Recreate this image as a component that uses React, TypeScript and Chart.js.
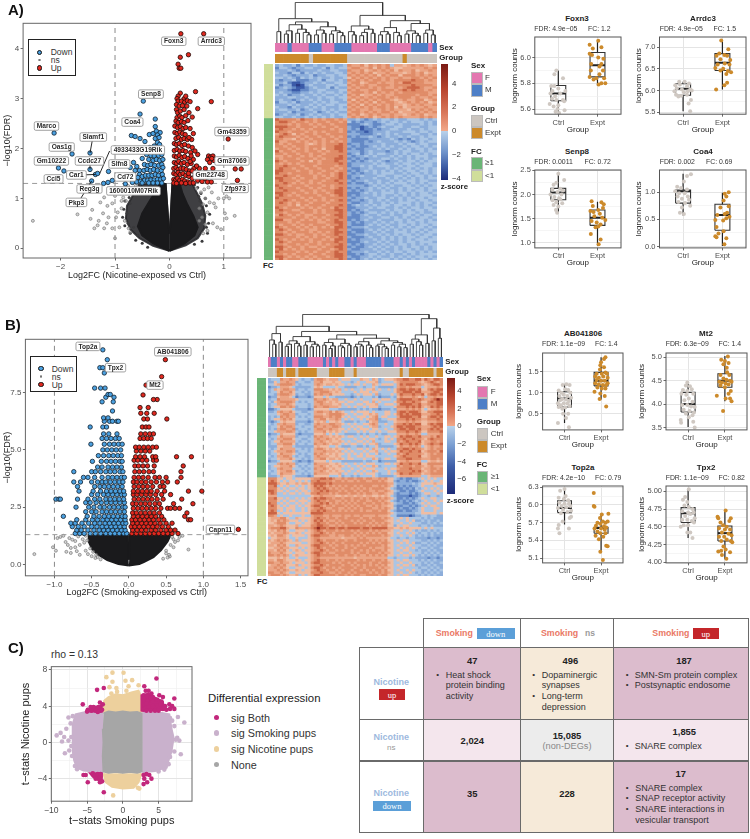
import React, { useEffect, useRef } from "react";
import { Chart, registerables } from "chart.js";
Chart.register(...registerables);
Chart.defaults.font.family = "'Liberation Sans', Arial, sans-serif";

const FONT = "'Liberation Sans', Arial, sans-serif";

// ---------- Volcano A ----------
const upA = [0.21,4.3,0.63,4.3,0.2,3.83,0.35,3.88,0.16,3.69,0.18,3.61,0.21,3.61,0.2,3.11,0.48,3.14,0.77,2.94,0.52,2.8,
0.16,3.05,0.14,3.0,0.27,3.0,0.3,3.05,0.16,2.95,0.22,2.95,0.28,2.93,0.33,2.96,0.38,2.94,0.13,2.88,0.18,2.85,0.24,2.86,0.32,2.85,
0.13,2.78,0.15,2.72,0.2,2.75,0.27,2.78,0.36,2.72,0.14,2.62,0.19,2.65,0.23,2.62,0.3,2.66,0.42,2.63,0.12,2.55,0.16,2.52,0.22,2.54,0.27,2.52,0.34,2.56,
0.1,2.45,0.15,2.42,0.2,2.44,0.25,2.4,0.3,2.42,0.38,2.4,0.1,2.32,0.14,2.3,0.19,2.33,0.24,2.3,0.29,2.28,0.44,2.3,0.12,2.2,0.17,2.22,0.22,2.18,0.27,2.2,0.33,2.18,0.41,2.18,0.36,2.22,
0.09,2.1,0.13,2.08,0.18,2.1,0.23,2.06,0.28,2.08,0.35,2.05,0.42,2.02,0.09,1.96,0.14,1.98,0.19,1.95,0.25,1.96,0.3,1.94,0.39,1.92,0.52,1.88,0.47,1.95,
0.09,1.85,0.13,1.83,0.18,1.86,0.23,1.82,0.28,1.84,0.34,1.8,0.44,1.78,0.4,1.85,0.09,1.72,0.13,1.7,0.17,1.74,0.22,1.7,0.27,1.72,0.33,1.68,0.4,1.7,0.38,1.74,0.08,1.6,0.12,1.62,0.16,1.58,0.21,1.6,0.26,1.6,0.31,1.58,0.37,1.55,0.49,1.64,0.45,1.6,0.55,1.6,
0.08,1.5,0.12,1.48,0.16,1.52,0.2,1.48,0.25,1.5,0.3,1.46,0.36,1.44,0.35,1.5,0.42,1.55,0.48,1.5,0.58,1.5,0.6,1.45,0.08,1.38,0.11,1.36,0.15,1.4,0.19,1.36,0.24,1.38,0.28,1.35,0.34,1.33,0.42,1.4,0.47,1.45,0.55,1.42,0.52,1.36,0.08,1.31,0.13,1.3,0.22,1.31,0.3,1.3,0.38,1.31,0.44,1.31,
0.72,1.85,0.76,1.83,0.8,1.85,0.7,1.78,0.74,1.72,0.82,1.76,0.78,1.8,0.5,1.65,0.66,1.6,0.67,1.52,0.8,1.6,0.65,1.4,0.6,1.34,0.7,1.33,0.77,1.33,1.08,2.19,1.21,1.59,1.32,1.59,1.25,1.36];
const downA = [-2.12,2.31,-1.79,1.89,-1.46,1.91,-2.04,1.61,-1.94,1.55,-1.46,1.58,-1.36,1.48,-1.32,1.5,-1.12,1.54,-1.43,1.35,-1.21,1.3,-1.13,1.32,-1.05,1.36,-0.81,1.29,-0.48,2.95,-0.54,2.69,-0.26,2.59,
-0.7,2.26,-0.63,2.24,-0.54,2.2,-0.45,2.14,-0.37,2.28,-0.3,2.3,-0.26,2.44,-0.24,2.35,-0.17,2.32,-0.22,2.27,-0.26,2.2,-0.19,2.22,-0.22,2.12,-0.18,2.08,-0.28,2.05,-0.36,2.02,-0.44,1.98,-0.3,1.95,-0.22,1.96,-0.14,1.98,
-0.42,1.88,-0.34,1.86,-0.28,1.85,-0.2,1.86,-0.14,1.88,-0.5,1.8,-0.38,1.78,-0.3,1.76,-0.24,1.78,-0.18,1.76,-0.12,1.78,-0.66,1.72,-0.6,1.64,-0.55,1.56,-0.46,1.68,-0.4,1.66,-0.34,1.68,-0.27,1.66,-0.2,1.66,-0.14,1.68,
-0.72,1.62,-0.63,1.56,-0.55,1.48,-0.47,1.56,-0.41,1.58,-0.35,1.56,-0.29,1.58,-0.22,1.56,-0.15,1.56,-0.12,1.62,-0.74,1.44,-0.66,1.38,-0.58,1.42,-0.5,1.44,-0.44,1.46,-0.38,1.46,-0.32,1.46,-0.26,1.48,-0.2,1.46,-0.13,1.48,
-0.68,1.32,-0.6,1.33,-0.53,1.34,-0.46,1.36,-0.4,1.36,-0.34,1.37,-0.28,1.37,-0.22,1.38,-0.16,1.38,-0.11,1.4,-0.5,1.31,-0.38,1.31,-0.3,1.31,-0.22,1.31,-0.14,1.31];
const nsA = [-2.51,0.55,-1.69,0.68,-1.42,0.77,-1.45,0.59,-1.27,0.92,-1.2,1.02,-1.1,1.12,-1.02,1.18,-1.14,0.85,-1.05,0.9,-1.0,1.05,-0.95,1.2,-1.22,0.7,-1.12,0.62,-1.05,0.4,-1.15,0.5,-1.3,0.55,-0.98,0.62,-0.92,0.42,-0.95,0.72,-1.38,0.4,-1.32,0.46,-1.0,0.2,-1.2,0.4,-0.9,1.1,-0.88,0.95,-0.88,0.8,-0.82,0.55,-0.75,0.4,-0.72,0.32,-0.8,0.95,-0.7,1.2,-0.62,1.25,
0.72,1.22,0.78,1.12,0.66,1.0,0.74,0.92,0.62,0.88,0.82,0.9,0.7,0.72,0.6,0.62,0.66,0.48,0.8,0.5,0.88,0.42,0.95,0.38,1.0,1.0,1.05,1.04,1.1,1.0,1.02,0.7,1.05,0.6,0.9,1.0,0.58,1.12,0.64,1.18,0.55,0.55,0.55,0.8,1.2,0.65,0.85,0.82,0.62,0.3,0.7,0.35,0.5,1.2,-0.76,1.25,-0.85,1.02,-0.8,1.2];
const coneEdgeA = [-0.82,0.45,-0.86,0.62,-0.84,0.78,-0.82,0.95,-0.74,1.02,-0.7,1.15,-0.6,1.2,-0.56,1.27,-0.72,0.3,-0.62,0.16,-0.5,0.1,-0.78,0.7,-0.72,0.9,-0.66,0.42,-0.4,0.02,-0.64,1.1,-0.76,0.5,-0.58,0.26,
0.7,0.3,0.6,0.14,0.46,0.08,0.72,0.5,0.74,0.68,0.68,0.85,0.66,1.0,0.58,1.1,0.52,1.22,0.46,1.27,0.62,0.62,0.56,0.95,0.68,0.42,0.54,1.04];
const coneOuterLeftA = [0,-0.05,-0.3,0.05,-0.55,0.2,-0.72,0.38,-0.8,0.6,-0.78,0.85,-0.66,1.08,-0.5,1.29,-0.07,1.29,-0.015,0.45,0,0.3];
const coneOuterRightA = [0,-0.05,0.3,0.06,0.52,0.2,0.64,0.4,0.66,0.65,0.6,0.9,0.5,1.12,0.42,1.29,0.055,1.29,0.015,0.45,0,0.3];
const coneLeftA = [0,-0.05,-0.3,0.1,-0.5,0.26,-0.58,0.44,-0.5,0.7,-0.36,0.95,-0.24,1.15,-0.18,1.29,-0.07,1.29,-0.015,0.45,0,0.3];
const coneRightA = [0,-0.05,0.28,0.1,0.46,0.26,0.52,0.42,0.44,0.65,0.32,0.9,0.24,1.1,0.19,1.29,0.055,1.29,0.015,0.45,0,0.3];
const labelsA: [string, number, number][] = [["Foxn3",0.08,4.15],["Arrdc3",0.77,4.15],["Senp8",-0.34,3.09],["Coa4",-0.68,2.53],["Marco",-2.26,2.45],["Oas1g",-1.98,2.03],["Slamf1",-1.4,2.23],["Gm10222",-2.17,1.75],["Ccdc27",-1.47,1.75],["4933433G19Rik",-0.58,1.97],["Slfn8",-0.92,1.69],["Car1",-1.71,1.47],["Ccl5",-2.13,1.39],["Cd72",-0.81,1.43],["Reg3g",-1.47,1.19],["1600010M07Rik",-0.66,1.15],["Pkp3",-1.71,0.92],["Gm43359",1.15,2.34],["Gm37069",1.15,1.75],["Gm22748",0.75,1.47],["Zfp973",1.21,1.2]];
const leadersA = [-1.42,2.15,-1.46,1.91,-1.1,1.95,-1.28,1.5,-1.6,1.47,-1.36,1.48,-1.63,1.0,-1.43,1.35,-1.46,1.75,-1.46,1.58];
const xTicksVA = [-2,-1,0,1];
const yTicksVA = [0,1,2,3,4];

// ---------- Volcano B ----------
const downRowsB = [
[1.35,-0.72,-0.66,-0.6,-0.52,-0.45,-0.38,-0.31,-0.25,-0.19,-0.13,-0.07,-0.03],
[1.5,-0.7,-0.64,-0.55,-0.47,-0.4,-0.34,-0.28,-0.22,-0.16,-0.1,-0.05],
[1.65,-0.76,-0.68,-0.6,-0.5,-0.43,-0.36,-0.3,-0.24,-0.18,-0.12,-0.06],
[1.8,-0.78,-0.72,-0.63,-0.54,-0.46,-0.39,-0.32,-0.26,-0.2,-0.14,-0.08,-0.04],
[1.95,-0.7,-0.58,-0.49,-0.42,-0.35,-0.29,-0.23,-0.17,-0.11,-0.05],
[2.1,-0.88,-0.56,-0.47,-0.4,-0.33,-0.27,-0.21,-0.15,-0.09,-0.05],
[2.3,-0.58,-0.5,-0.44,-0.36,-0.3,-0.24,-0.18,-0.12,-0.06],
[2.5,-0.71,-0.54,-0.47,-0.39,-0.33,-0.26,-0.2,-0.14,-0.08,-0.05],
[2.7,-0.58,-0.52,-0.44,-0.37,-0.3,-0.24,-0.18,-0.12,-0.06],
[2.85,-0.98,-0.94,-0.92,-0.69,-0.55,-0.46,-0.39,-0.31,-0.25,-0.19,-0.13,-0.07],
[3.05,-0.5,-0.42,-0.34,-0.28,-0.22,-0.16,-0.1,-0.06],
[3.2,-0.67,-0.48,-0.38,-0.3,-0.24,-0.18,-0.12,-0.07],
[3.4,-0.69,-0.46,-0.39,-0.33,-0.27,-0.21,-0.15,-0.09],
[3.6,-0.65,-0.74,-0.5,-0.42,-0.36,-0.31,-0.25,-0.19,-0.13,-0.08],
[3.8,-0.61,-0.55,-0.46,-0.36,-0.28,-0.22,-0.16,-0.1,-0.06],
[4.05,-0.74,-0.5,-0.45,-0.38,-0.31,-0.25,-0.19,-0.12,-0.08],
[4.25,-0.42,-0.36,-0.28,-0.22,-0.16,-0.1],
[4.5,-0.49,-0.37,-0.3,-0.24,-0.18,-0.12,-0.09],
[4.75,-0.41,-0.34,-0.27,-0.21,-0.15,-0.1],
[5.0,-0.35,-0.29,-0.23,-0.17,-0.11],
[5.25,-0.51,-0.33,-0.26,-0.2,-0.14,-0.09],
[5.5,-0.36,-0.3,-0.24,-0.18,-0.13],
[5.7,-0.34,-0.27,-0.16],
[6.0,-0.52,-0.35,-0.3],
[6.25,-0.33,-0.26,-0.22,-0.16,-0.14],
[6.4,-0.34,-0.28],
[6.7,-0.22],
[7.1,-0.36,-0.21],
[7.3,-0.31,-0.2],
[7.42,-0.28,-0.25],
[7.7,-0.46,-0.38,-0.32],
[8.36,-0.33],
[8.59,-0.39,-0.35],
[8.94,-0.29],
[9.37,-0.35]];
const upRowsB = [
[1.35,0.04,0.1,0.16,0.22,0.28,0.34,0.4,0.46,0.52,0.58,0.66],
[1.5,0.05,0.11,0.17,0.23,0.3,0.36,0.43,0.5,0.56,0.62],
[1.65,0.03,0.08,0.14,0.2,0.26,0.32,0.38,0.45,0.53],
[1.8,0.05,0.11,0.17,0.23,0.29,0.35,0.42,0.5,0.58],
[1.95,0.04,0.09,0.15,0.21,0.27,0.33,0.4,0.47,0.8,0.83],
[2.1,0.06,0.12,0.18,0.24,0.3,0.36,0.44,0.75],
[2.25,0.05,0.1,0.16,0.22,0.28,0.34,0.41,0.78],
[2.45,0.06,0.12,0.18,0.24,0.3,0.36,0.43,0.52,0.56,0.62,0.68],
[2.65,0.05,0.1,0.16,0.22,0.28,0.35,0.41,0.6,0.86],
[2.85,0.07,0.13,0.19,0.25,0.31,0.38,0.46,0.71],
[3.05,0.06,0.11,0.17,0.23,0.29,0.36,0.44,0.56],
[3.2,0.06,0.12,0.18,0.24,0.3,0.38,0.48,0.8,0.98],
[3.4,0.07,0.13,0.19,0.25,0.32,0.42,0.47],
[3.6,0.06,0.11,0.17,0.23,0.3,0.37,0.45,0.52,0.65],
[3.8,0.07,0.13,0.19,0.26,0.35,0.41,0.5,0.7],
[4.05,0.08,0.14,0.2,0.27,0.33,0.7],
[4.3,0.08,0.13,0.19,0.25,0.34,0.73],
[4.55,0.07,0.12,0.18,0.24,0.33,0.37],
[4.7,0.09,0.15,0.21,0.32,0.36,0.64,0.84],
[4.95,0.1,0.16,0.22,0.28],
[5.12,0.09,0.14,0.2,0.26,0.32,0.37],
[5.5,0.15,0.2,0.25,0.3],
[5.7,0.16,0.22,0.28,0.33],
[6.0,0.18,0.23,0.27],
[6.35,0.2,0.25,0.51],
[6.6,0.16,0.24,0.34],
[6.85,0.15,0.26],
[7.2,0.38,0.33],
[7.4,0.19],
[7.83,0.23],
[8.2,0.44],
[8.94,0.49],
[1.53,1.47]];
const nsB = [-1.27,0.45,-1.02,0.75,-0.98,0.6,-0.85,0.98,-0.92,1.2,-0.96,1.15,-0.88,1.25,-0.8,1.15,-0.76,1.08,-0.72,1.02,-0.82,0.85,-0.78,0.72,-0.72,0.75,-0.7,0.58,-0.78,0.5,-0.84,0.55,-0.66,0.85,-0.66,0.42,-0.62,1.1,-0.6,0.95,-0.58,0.6,-0.55,0.45,-0.5,0.36,-0.44,0.42,-0.42,0.32,-0.45,0.28,-0.38,0.22,-0.68,1.22,-0.58,1.25,-0.56,1.05,-0.52,0.7,-0.48,0.55,
0.8,0.65,0.55,0.35,0.54,0.42,0.52,0.3,0.6,0.75,0.62,0.98,0.66,1.05,0.68,1.2,0.58,1.2,0.72,1.25,0.5,0.6,0.46,0.25,0.56,0.85,0.6,1.1,0.5,0.48];
const coneLeftB = [0,-0.05,-0.14,0.02,-0.29,0.19,-0.42,0.45,-0.49,0.65,-0.54,1.0,-0.54,1.29,-0.015,1.29,-0.005,0.2];
const coneRightB = [0,-0.05,0.14,0.02,0.2,0.1,0.33,0.32,0.43,0.62,0.52,1.0,0.56,1.29,0.015,1.29,0.005,0.2];
const labelsB: [string, number, number][] = [["Top2a",-0.55,9.52],["AB041806",0.59,9.29],["Tpx2",-0.18,8.59],["Mt2",0.35,7.83],["Capn11",1.23,1.53]];
const xTicksVB = [-1,-0.5,0,0.5,1,1.5];
const yTicksVB = [0,2.5,5,7.5];

// ---------- Box plots: [q1, median, q3, whiskerLow, whiskerHigh] and points as dx,value pairs ----------
const foxStats = [[5.665,5.72,5.783,5.58,5.9],[5.85,5.94,6.04,5.78,6.13]];
const foxCtrl = [-0.05,5.9,0.12,5.84,-0.1,5.87,-0.18,5.78,-0.1,5.78,0,5.76,-0.15,5.74,0.18,5.74,-0.2,5.72,-0.08,5.7,0.05,5.72,-0.16,5.68,-0.05,5.67,0.12,5.67,-0.22,5.64,-0.12,5.62,0,5.63,0.15,5.66,-0.02,5.6,0.16,5.59,-0.07,5.58,0.02,5.57];
const foxExpt = [0.02,6.13,-0.2,6.1,-0.12,6.07,0.1,6.08,-0.2,6.03,-0.14,6.02,0.02,6.0,0.15,5.99,-0.16,5.95,0.05,5.93,0.1,5.95,-0.17,5.9,0.14,5.9,0.05,5.87,-0.2,5.85,-0.03,5.84,0.17,5.84,-0.1,5.83,0.1,5.8,0.2,5.8,0.03,5.79];
const arrStats = [[5.89,6.04,6.155,5.52,6.2],[6.46,6.64,6.85,6.02,7.15]];
const arrCtrl = [-0.1,6.2,0.04,6.2,0.15,6.16,-0.2,6.12,-0.08,6.14,0.1,6.1,-0.16,6.05,-0.03,6.02,0.18,6.02,0.22,6.0,-0.22,5.98,0.02,5.96,0.12,5.98,-0.18,5.9,-0.05,5.88,0.1,5.9,0.2,5.78,0.14,5.7,0.18,5.52,-0.12,5.86];
const arrExpt = [-0.03,7.15,0.15,6.95,-0.08,6.85,0.05,6.82,0.12,6.8,-0.15,6.8,-0.05,6.72,0.2,6.7,-0.12,6.6,0.06,6.62,0.18,6.6,-0.18,6.52,0.02,6.5,0.14,6.45,0.22,6.42,-0.05,6.46,0.1,6.38,0.12,6.18,0.05,6.12,-0.16,6.02];
const senStats = [[1.89,2.04,2.125,1.61,2.43],[1.36,1.52,1.68,0.94,1.85]];
const senCtrl = [0,2.43,0.15,2.3,-0.05,2.24,-0.12,2.2,0.05,2.12,-0.15,2.1,-0.02,2.05,0.12,2.08,-0.2,2.0,0.08,2.0,-0.1,1.95,0.02,1.92,-0.15,1.88,-0.05,1.84,0.1,1.82,-0.12,1.78,0,1.75,-0.06,1.68,-0.03,1.62,0.05,1.9];
const senExpt = [-0.15,1.86,0.1,1.84,0.16,1.8,-0.12,1.76,0.14,1.72,-0.18,1.66,-0.1,1.64,0.02,1.68,0.06,1.6,-0.08,1.55,0.12,1.52,0.2,1.47,-0.15,1.45,-0.02,1.42,0.08,1.38,0.02,1.34,-0.05,1.32,-0.17,1.18,0.08,1.07,0.03,0.97];
const coaStats = [[0.8,1.02,1.04,0.57,1.34],[0.3,0.58,0.78,0.01,0.99]];
const coaCtrl = [0.2,1.33,0.1,1.3,0.02,1.2,-0.15,1.1,-0.2,1.02,-0.05,1.08,0.1,1.05,-0.1,0.98,0.04,0.98,-0.14,0.92,0.12,0.92,-0.03,0.88,0.15,0.86,-0.12,0.82,0.05,0.8,0.18,0.75,-0.03,0.72,-0.08,0.62,0.02,0.6];
const coaExpt = [0.16,1.0,0.06,0.97,0.1,0.92,0.03,0.85,0.16,0.74,-0.05,0.72,0.12,0.62,0.06,0.6,-0.13,0.58,0.18,0.55,0.1,0.52,-0.18,0.49,0.02,0.48,-0.15,0.36,0.03,0.28,-0.1,0.24,-0.18,0.19,-0.15,0.17,0.1,0.15,0.05,0.04];
const abStats = [[0.66,0.86,1.02,0.28,1.2],[1.16,1.28,1.48,0.84,1.84]];
const abCtrl = [0.05,1.2,-0.05,1.18,0.14,1.18,-0.16,1.05,0.02,1.08,0.1,1.06,-0.08,1.0,0.16,1.0,-0.02,0.95,-0.14,0.92,0.08,0.92,0.18,0.88,-0.06,0.85,0.04,0.84,-0.12,0.82,0.12,0.8,-0.18,0.75,-0.02,0.75,0.08,0.74,-0.1,0.7,0.14,0.68,-0.16,0.66,0.02,0.65,-0.06,0.62,-0.04,0.5,0.1,0.5,0.04,0.4,-0.18,0.28,0.12,0.18];
const abExpt = [0.12,1.84,0.08,1.8,0,1.72,-0.02,1.65,0.08,1.6,-0.03,1.55,0.12,1.48,-0.12,1.45,0.02,1.45,0.16,1.45,-0.16,1.38,-0.06,1.35,0.06,1.38,0.18,1.35,-0.12,1.3,0,1.28,0.1,1.28,-0.16,1.22,-0.06,1.2,0.05,1.18,0.14,1.18,0.18,1.22,-0.1,1.12,0.02,1.1,0.12,1.1,-0.18,1.02,-0.02,0.98,0.1,0.92,-0.04,0.85,0.14,0.67];
const mtStats = [[3.83,4.0,4.25,3.51,4.47],[4.36,4.5,4.65,4.06,5.03]];
const mtCtrl = [-0.02,4.46,-0.06,4.4,0.05,4.38,-0.14,4.3,-0.02,4.28,0.1,4.32,-0.18,4.22,-0.05,4.2,0.14,4.22,0.02,4.12,-0.1,4.08,0.12,4.05,-0.16,3.98,-0.02,3.98,0.08,3.95,0.18,3.94,-0.12,3.88,0.04,3.85,0.16,3.82,-0.06,3.8,0.12,3.76,0.02,3.72,-0.2,3.66,-0.19,3.6,0.14,3.62,0.18,3.5];
const mtExpt = [0.08,5.02,-0.1,4.95,0,4.92,0.1,4.88,-0.04,4.85,0.05,4.78,0.06,4.68,-0.12,4.62,0.12,4.62,-0.04,4.55,0.04,4.52,0.14,4.5,-0.15,4.48,-0.08,4.46,0.02,4.44,0.1,4.42,0.18,4.48,-0.12,4.4,0,4.36,0.16,4.28,-0.22,4.18,0.1,4.22,0.14,4.12,0.18,4.06,0.02,4.12,-0.05,3.85];
const topStats = [[5.87,5.95,6.07,5.67,6.29],[5.52,5.61,5.62,5.22,5.85]];
const topCtrl = [0,6.27,-0.12,6.24,0.03,6.15,-0.16,6.12,-0.02,6.1,0.1,6.08,-0.14,6.04,0,6.02,0.12,6.02,-0.08,5.98,0.16,5.98,0.05,5.96,-0.18,5.95,-0.04,5.92,0.18,5.9,0.08,5.88,-0.1,5.86,0.18,5.8,0.14,5.78,-0.05,5.72,-0.16,5.66,0.12,5.6,-0.18,5.6,-0.14,5.52];
const topExpt = [-0.2,6.2,-0.2,5.98,-0.18,5.97,0.02,5.84,0.2,5.85,-0.03,5.78,0.05,5.72,-0.1,5.7,0.12,5.7,0.18,5.72,-0.14,5.65,-0.02,5.68,0.08,5.64,0.14,5.62,-0.18,5.6,0,5.6,0.1,5.58,-0.1,5.55,-0.02,5.52,0.12,5.52,-0.15,5.48,0.06,5.46,-0.06,5.42,0.14,5.31,0.18,5.3,-0.02,5.21,0.05,5.07];
const tpxStats = [[4.56,4.69,4.77,4.34,5.04],[4.3,4.41,4.51,4.04,4.74]];
const tpxCtrl = [0.02,5.03,-0.08,4.92,-0.14,4.88,-0.02,4.85,-0.1,4.8,0.02,4.78,0.12,4.75,-0.16,4.72,0,4.7,0.15,4.7,-0.08,4.65,0.06,4.68,0.18,4.62,-0.16,4.6,-0.02,4.6,0.1,4.58,0.16,4.56,-0.12,4.52,0,4.52,-0.2,4.5,0.06,4.42,-0.02,4.42,0.12,4.34];
const tpxExpt = [0.02,4.73,-0.2,4.64,-0.18,4.62,0.16,4.62,0.12,4.58,-0.12,4.56,-0.05,4.52,0.05,4.5,-0.16,4.48,0,4.46,0.14,4.46,-0.08,4.42,0.1,4.4,0.18,4.38,-0.16,4.36,-0.02,4.36,0.05,4.32,-0.1,4.3,0.16,4.3,0.2,4.28,-0.04,4.22,0.02,4.18,-0.18,4.15,-0.1,4.16,0.14,4.14,-0.08,4.1,0.04,4.05];

// ---------- Heat maps: one string per row, one digit per column (z-score level 0-9) ----------
const heatRowsA = [
"34334243343344334766757676746656767656",
"24432334433424344677667576765566666767",
"33343233334334433766756767675766756676",
"43324424343433443676767566766656767566",
"33432333423344344767676757677577767676",
"44343243434334334576767676766766776767",
"32334222334244343767676776767777877676",
"33421123343433443677567767667688777666",
"42331013433344344767676677767777877776",
"23432112343342433676776767667678887667",
"33321122334433344767667767776787877676",
"34332233434344343677767576767677777766",
"43423343343433434767566767667777767767",
"33344334334344344676767677676777676676",
"34332343434334334757676767765676677567",
"24434233343434433676767576776567676756",
"33343433434344344767576767676656767667",
"43324334343433343676767677675756666766",
"34433423433434344767667667676665767676",
"33342333342343433677676767767566676767",
"23433423434334344767567676676656767566",
"44334334343434334676767567676766667676",
"87777687767677676334323434434334443434",
"78876776767767767423233234344343444343",
"77767677676776777222343223443433334343",
"88877677767677677322123234334433443344",
"78776767677776767323122323344334334344",
"87767776767677767232212333433344434434",
"67875767767767777333222343434333443343",
"78777676776776767232334323433434334344",
"77665767677677677322223333343232434434",
"86677676767676767322232343334343234344",
"76767776567677787233233334333434434433",
"77676776777677887323223434343343443434",
"67767676767577887232233343433434344343",
"86776776776767787333234333234344334344",
"77677677677677777234234344334343443434",
"66767767676777787323343433343434344433",
"76777677767677887232323334434334343434",
"87677767576777877323234343233434434344",
"76767677776777787233333434334344343443",
"77877767767777677233434344433434434443",
"78776776776776767322334333434344343434",
"88777677677677677232343434343434434434",
"87767777676776787323233434443343443434",
"77877677767676787233433344334434344343",
"88776767767767787232333433434343434344",
"78777677677677877323343343343434434433",
"77876767676777787232234343434443434344",
"87767776777676777333323434343344343434",
"78777677676776787232334343433434434344",
"77877767767677887323234334343434344343",
"88776776767767887222343434443443434434",
"78767677776776787232333434334343434443",
"87777767677677777323343344343434344344",
"77876776767676787233234343433434434434",
"78767677677767777322334334343444343443",
"77767576777677787234343434434434343434",
"87677767676776877223334344334343443443",
"78776677767677887232343333434434344344",
"77677767767677787323234434343434434334",
"68767676677767887322343343343344343443",
"77776776767677787222334334434343434434",
"88667767676767877232343343334434344343",
"77767677776677887323233434343434434344",
"76776767677767787322234343433443434434",
"87677676767676887233343334343434344343",
"78767767667777877322234343434343443434",
"77676777676767887232233434334443434344",
"88767667767677877223343343434344343443",
"77777676767767787322234334343434434434",
"87676767677676887232333434343434344344",
"78767777676777877222343343433434434443",
"77677676776767787323233434343443434344",
"88767767667677887232234343434343443434",
"78676767776776787322333434334344343434",
"87777676767767877233343343434434434343",
"77676777677677887223234434343343434444",
"88767676767767887322334343343434344343",
"78677767676777787232343434434343434434"];
const fcA = "LLLLLLLLLLLLLLLLLLLLLLGGGGGGGGGGGGGGGGGGGGGGGGGGGGGGGGGGGGGGGGGGGGGGGGGGGGGGGGGG".split("");
const sexA = "FFFMFFFFMMMFFFMMMMFFFFFFMMMFFFFFMMMMFM";
const groupA = "EEEEEEEECEEEEEEEECCCCCCCCCCCCCECCCCCCC";
const treeA: any = [100,
  [60,[28,0,0],[52,[45,[30,[22,0,0],0],[34,[24,0,0],[26,0,[20,0,0]]]],[40,[32,[20,0,0],[24,0,0]],[30,[22,0,0],[26,0,[18,0,0]]]]]],
  [68,[42,[28,0,[20,0,0]],[34,[26,[18,0,0],0],[24,0,0]]],[55,[38,[28,[20,0,0],[22,0,0]],[26,0,[18,0,0]]],[48,[30,[22,0,0],[24,0,[18,0,0]]],[32,[24,0,0],[20,0,0]]]]]];

const heatRowsB = [
"344476676543443677656664555444655465345556778877886876887",
"335466766344334667555655444345445556344445677777765678767",
"445677776434444676566565545455454465455554687888776567887",
"233466654333334565444454433334434454333334677676664566676",
"346567766344344777665656454544545564544545788788785578788",
"344576675443434667776565444454555455444445778887886667887",
"443677765344334767667555544345455546344454687778778578878",
"233566654233323555454433333234344434233343576667656466766",
"344766666544444766765664454454544455455544788887787667898",
"435677776434344677656565545544455464544445778778775578788",
"344666765444434667666556454445545556445554688887786677788",
"345577676344434766776665445454454555344445777878786568787",
"223455554333323555554443333334343433233343666767675456676",
"334676675443344677667576544545555454445544788788875577888",
"444567766344434666567777654454455656445545787878886667787",
"343476766434344777667677545445554567455444688887785578878",
"345567675444434667756676454544545667344555777878776677787",
"323456555333323565645565433343443566333445666767665566677",
"434667666344334676667766545454455676445446778787885578788",
"344576776443444766766776444545544566344456887888776667878",
"343677667344434677667665545454555455445446788788786678787",
"445666776434344666756565454445454554544555777877875577778",
"233465555323333555645454433334343443433444666766764466667",
"344576666344434767665656545544545445445545687887786667687",
"434667775443344676676565444454454554345454778778776578777",
"345576666434434667656556545445545464445544767877785667767",
"344667775344344766765665454554454556344445687787875678778",
"333556664333333565554454333443343445333334576676764567667",
"434576666443434677656565545445545465454544778878776567677",
"345666776344434666766656454544454556445455687787785677768",
"344576665434344767656565545454545445344544767877776567677",
"434667764344334676665565445445545554444445678777785567777",
"344566675443434667756656545544454465345544777887776667767",
"233455554323323555545444333333343344233333566766664456656",
"444676766344434766665565454454545554445545687787785577777",
"345566675434344667656556545445454465344444767776776567666",
"344676664443434766765655444544545554445455677787775667767",
"434566775344344667656565545445454465444544777778786567677",
"344576665443434766665556454454545554344545687787775667777",
"333465554333323555554445344343444454333334566666664456666",
"777554554555556778878766767767767766767554323223345454544",
"787545455454547787777677676676776677676553233232234545445",
"888655655656657888878777777777777777777664333334345555655",
"778454544545456878767676767767677766767654232323345444544",
"777545455455456787876767677676767677776543223232434545454",
"887554544545546778787776767767677667667654322322345444545",
"787445455454557787776767776776767766776553233323234554454",
"666444444444445667666655656656656655656543222212234434434",
"778554544545456878877677677677676776767654223232345445544",
"777545455455546787767766767676776677676543232323434544545",
"877454544545456778786767676767767767767654332232345454454",
"787545455454557887677677767676776676766553223323234545544",
"777554555445456778766776676767677766767654232232345444554",
"787454545445457787877676767677676677677543223223345444544",
"888545555555558888777777777777777777777654333333445555545",
"776454454445446777667666766766766667666544222212334434433",
"566677544655556787767767767777677677767654454544443434333",
"565767655545456878676676777676767767776554544545334343343",
"556777544554556787767767677767677676767654454454443343434",
"665676555645557788776676767777776767677553545544434434333",
"677788655766667898878878878888788788888665565655554545444",
"565767544555456787677767677676777676766654454454343343434",
"656667655654556778767677777767676767677554544545434434343",
"565776545555457887776676677676767777767654454454343434333",
"455666544544456776666666566667676666666544344344333323323",
"656767654645556787677767767767777676767554545544443343434",
"566676555554456778767677677777676767677654454545334434343",
"665767544655557887776767767676767777767554544454443343433",
"556676655545456787677677767767777676667654454545434434334",
"665767545654556778767767677677676767767554545544343343433",
"766676554555457887676677777676776777676654454454443434343",
"776767645655556787777767767767667676767554545545434343434",
"555656544544456776666666666656666666666443444434333323323",
"665776555654556787767767677776767767767554545544434343433",
"776676654555457887777676776767777677677654454454443434334",
"566767555645556778767777677676767676767554545545343343433",
"667676544555457887677676777767767777676654454444434434343",
"666767655654556787767767677677676767767554544545443343434",
"776676544555557778776676776767777676767654454454343434343",
"677767655645456887777767767677667777677554545544434343433"];
const fcB = "GGGGGGGGGGGGGGGGGGGGGGGGGGGGGGGGGGGGGGGGLLLLLLLLLLLLLLLLLLLLLLLLLLLLLLLLLLLLLLLL".split("");
const sexB = "FMMFMFMMFFMMMFFFFFMFMFMFFMMFMFFFMMMMMFMMMFFMFMFMFFFFMFMFM";
const groupB = "CCCEECEEECEEEEEECCCCEEEEECCCECCCCCCCCCCCCCCECCEEEEEEEECEE";
const treeB: any = [100,
  [72,[55,[40,0,[30,0,0]],[35,0,0]],[60,[48,[38,[30,[25,0,0],0],[32,0,[26,0,0]]],[36,[28,0,0],[30,[24,0,0],[26,0,0]]]],
    [52,[42,[34,[28,0,0],[26,[20,0,0],0]],[32,[26,0,[22,0,0]],[28,0,0]]],[44,[36,[30,[24,0,0],[26,0,0]],[28,0,[22,0,0]]],[38,[30,[26,0,0],[24,0,[20,0,0]]],[34,[28,0,0],[30,[24,0,0],[22,0,0]]]]]]]],
  [90,[52,[42,[30,0,0],[36,0,[28,0,0]]],[32,0,0]],[68,[38,0,0],[44,0,0]]]];
const heatPalette: Record<string,string> = {"0":"#2a3a85","1":"#3a5aa8","2":"#6489c6","3":"#8cadda","4":"#aac5e4","5":"#efbda3","6":"#eba585","7":"#e08c68","8":"#cb6444","9":"#93291f"};
const annotPalette: Record<string,string> = {F:"#e377b0",M:"#4e7fc7",C:"#ccc6c0",E:"#cc8a2b",G:"#6ab576",L:"#d0de9b"};

// ---------- Scatter C ----------
const purpleLeft = [-2.7,3.3,-5.5,3.3,-6.6,3.1,-7,2,-7,0.5,-7,-1,-6.8,-2,-6.4,-2.8,-5.5,-3.1,-2.7,-3.3];
const purpleRight = [2.7,3.3,5.5,3.25,6.5,3.1,6.8,1.5,7.1,0.5,6.8,-1,6.3,-2.2,5.5,-2.9,4.5,-3.15,2.7,-3.3];
const purpleDots = [-9.25,0.77,-8.7,1.05,-8.2,0.6,-7.9,1.5,-8.5,0.1,-7.6,0.2,-7.2,0.6,-7.3,2.1,-7.6,2.75,-7,2.9,-8.1,-1.2,-7.5,-0.9,-7.2,-0.4,-7.1,-1.5,-6.7,-2.6,-6.4,-2.95,
7.6,0.5,8.6,2.2,7.7,2.8,7.2,1.8,6.9,2.4,7.4,0.3,7.9,0.2,8.1,-1.3,7.2,-1.0,6.6,-1.6,6.4,-2.4,6,-2.7,5.8,-3,5,-3.2,6.6,2.7];
const greyBlock = [-2.7,3.2,-2,3.4,-1,3.3,0,3.4,1,3.3,2,3.35,2.6,3.2,2.65,1.5,2.6,0,2.65,-1.5,2.6,-3.2,2,-3.35,1,-3.25,0,-3.35,-1,-3.25,-2,-3.35,-2.7,-3.2,-2.8,-1.5,-2.7,0,-2.8,1.5];
const creamTop = [-2.7,3.3,-2.6,4.6,-2,5.0,-1,5.3,0,5.2,1.2,5.5,2.2,5.7,2.6,5,2.6,3.3];
const creamBottom = [-2.7,-3.4,-2.4,-4.4,-1.5,-4.9,0,-5.1,1.5,-5,2.2,-4.4,2.6,-3.4];
const creamDots = [-2.3,7.2,-1.45,7.7,0.1,7.68,-1.45,6.7,0.37,6.8,1.3,6.87,-1.87,6.1,-0.9,6.0,0.8,6.2,2.2,6.3,-1.35,-5.85,2.1,-5.0,2.3,-5.1,-0.8,5.6,0.5,5.7,-1.6,5.4];
const magentaUR = [2.6,3.4,2.6,5.2,3.6,5.4,4.6,4.9,5.6,4.5,5.8,3.5];
const magentaUL = [-2.8,3.4,-4.8,3.4,-4.2,3.9,-3.2,4.0,-2.8,4.3];
const magentaLL = [-2.8,-3.4,-4.6,-3.4,-4.2,-3.8,-3.4,-4.2,-2.8,-4.4];
const magentaDots = [4.7,7.05,3,6.2,3.2,5.7,3.6,5.7,4.0,5.4,2.9,5.2,3.4,5.1,4.2,5.0,5.1,5.2,5.6,5.0,2.9,4.8,3.5,4.6,4.1,4.6,4.8,4.7,5.4,4.5,7.2,4.85,6.5,4.2,6.9,4.0,7.2,3.7,6.6,3.7,5.9,4.0,5.6,3.7,5.2,4.2,4.7,4.1,4.2,4.0,3.6,4.0,3.0,4.2,2.9,3.6,3.3,3.5,3.9,3.5,4.5,3.5,5,3.5,6.1,3.6,3.3,4.3,3.9,4.9,
-5.6,4.2,-3.6,5.8,-2.66,6,-4.9,3.6,-5.0,3.4,-4.4,3.5,-4.1,3.9,-3.8,3.5,-3.4,3.9,-3.1,3.5,-2.8,4.2,-2.9,3.6,-3.2,4.4,-4.5,3.9,-3.5,3.35,
-5.5,-3.6,-5.2,-3.6,-4.9,-4.4,-4.2,-3.4,-3.9,-3.7,-3.5,-3.5,-3.1,-3.8,-3.8,-4.0,-3.2,-4.4,-2.9,-4.3,-3.1,-3.5,-2.66,-5.5,
2.9,-3.6,3.3,-3.5,3.0,-4.0,3.4,-4.4,4.0,-4.0,2.9,-4.6,3.7,-3.6];

// ---------- helpers ----------
const pairs = (a: number[]) => { const o: {x:number,y:number}[] = []; for (let i=0;i<a.length;i+=2) o.push({x:a[i],y:a[i+1]}); return o; };
const rowsToPts = (r: number[][]) => r.flatMap(([y,...xs]) => xs.map(x => ({x,y})));
const minus = (s: string) => s.replace(/-/g, "\u2212");

type Spec = { rect: {x:number,y:number,w:number,h:number}, cfg: any };

const frame = (color: string, lw: number) => ({
  id: "frame",
  afterDatasetsDraw(c: any) {
    const a = c.chartArea; const g = c.ctx;
    g.save(); g.strokeStyle = color; g.lineWidth = lw;
    g.strokeRect(a.left, a.top, a.right - a.left, a.bottom - a.top);
    g.restore();
  },
});

function plot(o: any): Spec {
  const fs = o.titleFs ?? 8, lh = fs * 1.2;
  const x = o.yTitleX - lh / 2, y = o.y0 - 6;
  const w = o.x1 + 5 - x, h = o.xTitleY + lh / 2 - y;
  const grid = (ticks: number[]) => ({
    display: true, drawTicks: true, tickLength: 2.5,
    color: (c: any) => o.grid ? (c.tick && ticks.includes(c.tick.value) ? "#e4e4e4" : "#efefef") : "rgba(0,0,0,0)",
    lineWidth: (c: any) => (c.tick && ticks.includes(c.tick.value) ? 1 : 0.6),
    tickColor: (c: any) => (c.tick && ticks.includes(c.tick.value) ? "#444" : "rgba(0,0,0,0)"),
    tickWidth: 0.8,
  });
  const scale = (ticks: number[], minor: number[], range: number[], fmt: any, title: string, isX: boolean) => ({
    type: "linear", min: range[0], max: range[1],
    border: { display: false },
    grid: grid(ticks),
    afterBuildTicks: (s: any) => { s.ticks = [...ticks, ...minor].map(value => ({ value })); },
    afterFit: (s: any) => { if (isX) s.height = y + h - o.y1; else s.width = o.x0 - x; },
    ticks: { autoSkip: false, maxRotation: 0, minRotation: 0, padding: 1.5, color: "#4d4d4d", font: { size: o.tickFs ?? 7.5 },
      callback: (v: number) => ticks.includes(v) ? minus(fmt(v)) : "" },
    title: { display: true, text: title, color: "#222", padding: 0, font: { size: fs } },
  });
  const ds = [...o.datasets].reverse().map((d: any) => ({ pointHoverRadius: d.pointRadius ?? 0, ...d }));
  return {
    rect: { x, y, w, h },
    cfg: {
      type: "scatter",
      data: { datasets: ds },
      options: {
        animation: false, responsive: false, events: [],
        layout: { autoPadding: false, padding: { top: o.y0 - y, right: x + w - o.x1, left: 0, bottom: 0 } },
        plugins: { legend: { display: false }, tooltip: { enabled: false }, title: { display: false } },
        scales: {
          x: scale(o.xTicks, o.xMinor ?? [], o.xRange, o.xFmt ?? ((v: number) => String(v)), o.xTitle, true),
          y: scale(o.yTicks, o.yMinor ?? [], o.yRange, o.yFmt ?? ((v: number) => String(v)), o.yTitle, false),
        },
      },
      plugins: [frame(o.frame ?? "#555", o.frameW ?? 1), ...(o.plugins ?? [])],
    },
  };
}

const dots = (data: any[], fill: string, r: number, stroke?: string, bw = 0) => ({
  data, showLine: false, pointRadius: r, backgroundColor: fill, borderColor: stroke ?? fill, borderWidth: bw, pointBorderWidth: bw,
});
const poly = (a: number[], fill: string) => ({
  data: pairs(a), showLine: true, fill: "shape", backgroundColor: fill, borderColor: fill, borderWidth: 2, pointRadius: 0, tension: 0,
});
const seg = (a: number[], color: string, lw: number, dash?: number[]) => ({
  data: pairs(a), showLine: true, borderColor: color, borderWidth: lw, borderDash: dash ?? [], pointRadius: 0, fill: false, tension: 0,
});

const tagPlugin = (labels: [string,number,number][], leaders: number[]) => ({
  id: "tags",
  afterDatasetsDraw(c: any) {
    const g = c.ctx, sx = c.scales.x, sy = c.scales.y;
    g.save();
    g.strokeStyle = "#111"; g.lineWidth = 0.9;
    for (let i=0;i<leaders.length;i+=4) {
      g.beginPath();
      g.moveTo(sx.getPixelForValue(leaders[i]), sy.getPixelForValue(leaders[i+1]));
      g.lineTo(sx.getPixelForValue(leaders[i+2]), sy.getPixelForValue(leaders[i+3]));
      g.stroke();
    }
    g.font = `bold 6.6px ${FONT}`; g.textAlign = "center"; g.textBaseline = "middle";
    for (const [t,x,y] of labels) {
      const px = sx.getPixelForValue(x), py = sy.getPixelForValue(y);
      const w = g.measureText(t).width + 5, h = 8.5;
      g.beginPath(); g.roundRect(px - w/2, py - h/2, w, h, 1.5);
      g.fillStyle = "#fff"; g.fill(); g.strokeStyle = "#8a8a8a"; g.lineWidth = 0.8; g.stroke();
      g.fillStyle = "#2a2a2a"; g.fillText(t, px, py + 0.3);
    }
    g.restore();
  },
});

function volcano(o: any): Spec {
  return plot({
    ...o, titleFs: 9, tickFs: 8, frame: "#666", frameW: 1, grid: false,
    datasets: [
      ...(o.coneOL ? [poly(o.coneOL, "rgba(42,42,45,0.9)"), poly(o.coneOR, "rgba(42,42,45,0.9)")] : []),
      ...(o.edge ? [dots(pairs(o.edge), "#3a3a3c", 1.5)] : []),
      poly(o.coneL, "#1a1a1c"), poly(o.coneR, "#1a1a1c"),
      dots(pairs(o.ns), "rgba(175,175,175,0.55)", 1.5, "#6b6b6b", 0.6),
      seg([-1,o.yRange[0],-1,o.yRange[1]], "#8a8a8a", 1, [5,4]),
      seg([1,o.yRange[0],1,o.yRange[1]], "#8a8a8a", 1, [5,4]),
      seg([o.xRange[0],1.3,o.xRange[1],1.3], "#9a9a9a", 1, [5,4]),
      dots(o.down, "#4ba0e0", 2.2, "#10202c", 0.8),
      dots(o.up, "#e0281f", 2.2, "#1c0a08", 0.8),
    ],
    plugins: [tagPlugin(o.labels, o.leaders ?? [])],
  });
}

function heat(rect: Spec["rect"], rows: string[], palette: Record<string,string>): Spec {
  const nc = Math.max(...rows.map(r => r.length));
  return {
    rect,
    cfg: {
      type: "bar",
      data: {
        labels: Array.from({ length: nc }, (_, i) => String(i)),
        datasets: rows.map(r => {
          const s = r.padEnd(nc, r[r.length - 1]);
          return { data: s.split("").map(() => 1), backgroundColor: s.split("").map(ch => palette[ch]), borderWidth: 0, barPercentage: 1, categoryPercentage: 1, stack: "s" };
        }),
      },
      options: {
        animation: false, responsive: false, events: [],
        layout: { autoPadding: false, padding: 0 },
        plugins: { legend: { display: false }, tooltip: { enabled: false } },
        scales: {
          x: { stacked: true, display: false },
          y: { stacked: true, display: false, reverse: true, min: 0, max: rows.length },
        },
      },
    },
  };
}

function dendro(rect: Spec["rect"], tree: any): Spec {
  let n = 0; const pts: {x:number,y:number}[] = [];
  const walk = (t: any): [number,number] => {
    if (t === 0) { n += 1; return [n - 0.5, 0]; }
    const [h,a,b] = t;
    const A = walk(a), B = walk(b);
    pts.push({x:A[0],y:A[1]},{x:A[0],y:h},{x:B[0],y:h},{x:B[0],y:B[1]},{x:NaN,y:NaN});
    return [(A[0]+B[0])/2, h];
  };
  walk(tree);
  return {
    rect,
    cfg: {
      type: "scatter",
      data: { datasets: [{ data: pts, showLine: true, borderColor: "#333", borderWidth: 0.9, pointRadius: 0, spanGaps: false, tension: 0 }] },
      options: {
        animation: false, responsive: false, events: [],
        layout: { autoPadding: false, padding: 0 },
        plugins: { legend: { display: false }, tooltip: { enabled: false } },
        scales: { x: { type: "linear", display: false, min: 0, max: n }, y: { type: "linear", display: false, min: 0, max: 101 } },
      },
    },
  };
}

function box(o: any, stats: number[][], ctrl: number[], expt: number[]): Spec {
  const w = 0.19;
  const bx = (c: number, s: number[]) => {
    const [q1,m,q3,lo,hi] = s;
    return [
      seg([c,lo,c,q1], "#222", 1.2), seg([c,q3,c,hi], "#222", 1.2),
      seg([c-w,q1,c+w,q1,c+w,q3,c-w,q3,c-w,q1], "#333", 1.1),
      seg([c-w,m,c+w,m], "#222", 2),
    ];
  };
  const shift = (a: number[], c: number) => pairs(a).map(p => ({ x: p.x + c, y: p.y }));
  const maj = o.yTicks as number[];
  const yMinor = maj.slice(1).map((v, i) => (v + maj[i]) / 2);
  return plot({
    ...o, titleFs: 8, tickFs: 7.5, grid: true, frame: "#555", frameW: 1,
    xRange: [0.4, 2.6], xTicks: [1, 2], xFmt: (v: number) => v === 1 ? "Ctrl" : "Expt",
    xTitle: "Group", yTitle: "lognorm counts", yMinor,
    datasets: [
      ...bx(1, stats[0]), ...bx(2, stats[1]),
      dots(shift(ctrl, 1), "#cfc8c2", 2),
      dots(shift(expt, 2), "#cc8a2b", 2),
    ],
  });
}

// ---------- layout of all charts ----------
const col1 = { x0: 534.3, x1: 620, yTitleX: 514.3 }, col2 = { x0: 659.7, x1: 745.7, yTitleX: 639 };
const colB1 = { x0: 542.3, x1: 622.7, yTitleX: 518.5 }, colB2 = { x0: 665.7, x1: 746.7, yTitleX: 641.5 };
const f1 = (v: number) => v.toFixed(1), f2 = (v: number) => v.toFixed(2);

const specs: Spec[] = [
  volcano({ x0: 22.7, x1: 250.5, y0: 22.7, y1: 257.7, yTitleX: 7, xTitleY: 275.3, xRange: [-2.69,1.5], yRange: [-0.195,4.51], xTicks: xTicksVA, yTicks: yTicksVA,
    xTitle: "Log2FC (Nicotine-exposed vs Ctrl)", yTitle: "-log10(FDR)".replace("-","\u2212"), coneOL: coneOuterLeftA, coneOR: coneOuterRightA, edge: coneEdgeA, coneL: coneLeftA, coneR: coneRightA, ns: nsA, up: pairs(upA), down: pairs(downA), labels: labelsA, leaders: leadersA }),
  volcano({ x0: 25, x1: 247, y0: 339, y1: 575.7, yTitleX: 7, xTitleY: 592.5, xRange: [-1.39,1.6], yRange: [-0.497,9.83], xTicks: xTicksVB, yTicks: yTicksVB, xFmt: f1, yFmt: f1,
    xTitle: "Log2FC (Smoking-exposed vs Ctrl)", yTitle: "-log10(FDR)".replace("-","\u2212"), coneL: coneLeftB, coneR: coneRightB, ns: nsB, up: rowsToPts(upRowsB), down: rowsToPts(downRowsB), labels: labelsB }),

  box({ ...col1, y0: 37, y1: 113.3, xTitleY: 129.3, yRange: [5.56,6.16], yTicks: [5.6,5.8,6.0], yFmt: f1 }, foxStats, foxCtrl, foxExpt),
  box({ ...col2, y0: 37, y1: 113.3, xTitleY: 129.3, yRange: [5.453,7.233], yTicks: [5.5,6,6.5,7], yFmt: f1 }, arrStats, arrCtrl, arrExpt),
  box({ ...col1, y0: 169.7, y1: 246.7, xTitleY: 262, yRange: [0.895,2.506], yTicks: [1,1.5,2,2.5], yFmt: f1 }, senStats, senCtrl, senExpt),
  box({ ...col2, y0: 169.7, y1: 246.7, xTitleY: 262, yRange: [-0.026,1.41], yTicks: [0,0.5,1], yFmt: f1 }, coaStats, coaCtrl, coaExpt),
  box({ ...colB1, y0: 352.7, y1: 428.7, xTitleY: 444, yRange: [0.116,1.94], yTicks: [0.5,1,1.5], yFmt: f1 }, abStats, abCtrl, abExpt),
  box({ ...colB2, y0: 352.7, y1: 428.7, xTitleY: 444, yRange: [3.448,5.093], yTicks: [3.5,4,4.5,5], yFmt: f1 }, mtStats, mtCtrl, mtExpt),
  box({ ...colB1, y0: 485.7, y1: 561.7, xTitleY: 577, yRange: [5.02,6.32], yTicks: [5.1,5.4,5.7,6.0,6.3], yFmt: f1 }, topStats, topCtrl, topExpt),
  box({ ...colB2, y0: 485.7, y1: 561.7, xTitleY: 577, yRange: [3.99,5.075], yTicks: [4,4.25,4.5,4.75,5], yFmt: f2 }, tpxStats, tpxCtrl, tpxExpt),

  dendro({ x: 274.7, y: 1.7, w: 162, h: 41 }, treeA),
  heat({ x: 274.7, y: 43.3, w: 162, h: 8.7 }, [sexA], annotPalette),
  heat({ x: 274.7, y: 53.7, w: 162, h: 8.6 }, [groupA], annotPalette),
  heat({ x: 263.7, y: 64, w: 8.6, h: 195.3 }, fcA, annotPalette),
  heat({ x: 274.7, y: 64, w: 162, h: 195.3 }, heatRowsA, heatPalette),

  dendro({ x: 268.3, y: 314, w: 174.4, h: 42.3 }, treeB),
  heat({ x: 268.3, y: 357, w: 174.4, h: 9.3 }, [sexB], annotPalette),
  heat({ x: 268.3, y: 367.7, w: 174.4, h: 8.6 }, [groupB], annotPalette),
  heat({ x: 257.3, y: 378.3, w: 8.7, h: 197.4 }, fcB, annotPalette),
  heat({ x: 268.3, y: 378.3, w: 174.4, h: 197.4 }, heatRowsB, heatPalette),

  plot({ x0: 51.7, x1: 192.3, y0: 665.7, y1: 800.3, yTitleX: 26, xTitleY: 820.5, titleFs: 11, tickFs: 8.6, grid: true, frame: "#666", frameW: 1,
    xRange: [-10,9.67], yRange: [-6.49,8.36], xTicks: [-10,-5,0,5], xMinor: [-7.5,-2.5,2.5,7.5], yTicks: [-4,0,4,8], yMinor: [-2,2,6],
    xTitle: "t\u2212stats Smoking pups", yTitle: "t\u2212stats Nicotine pups",
    datasets: [
      poly(purpleLeft, "#c9b1cc"), poly(purpleRight, "#c9b1cc"), dots(pairs(purpleDots), "#c9b1cc", 2.3),
      poly(creamTop, "#edd09d"), poly(creamBottom, "#edd09d"), dots(pairs(creamDots), "#edd09d", 2.3),
      poly(magentaUR, "#c2277c"), poly(magentaUL, "#c2277c"), poly(magentaLL, "#c2277c"),
      dots(pairs(magentaDots), "#c2277c", 2.3),
      poly(greyBlock, "#a6a6a6"),
    ] }),
];

// ---------- HTML text helpers ----------
const T = ({ x, y, s, size = 8, bold, color = "#222", align = "left", rot, serif }: any) => (
  <span style={{ position: "absolute", left: x, top: y, fontSize: size, fontWeight: bold ? 700 : 400, color, whiteSpace: "nowrap", lineHeight: 1,
    fontFamily: serif ? "'Liberation Serif', serif" : FONT,
    transform: `translate(${align === "center" ? "-50%" : align === "right" ? "-100%" : "0"}, -50%)${rot ? ` rotate(${rot}deg)` : ""}` }}>{s}</span>
);
const Box = ({ x0, y0, x1, y1, bg, border, radius }: any) => (
  <div style={{ position: "absolute", left: x0, top: y0, width: x1 - x0, height: y1 - y0, background: bg, border, boxSizing: "border-box", borderRadius: radius }} />
);
const Dot = ({ x, y, r, bg, border }: any) => (
  <div style={{ position: "absolute", left: x - r, top: y - r, width: 2 * r, height: 2 * r, borderRadius: "50%", background: bg, border, boxSizing: "border-box" }} />
);

const boxTitles = [
  ["Foxn3","FDR: 4.9e\u221205","FC: 1.2",577,19,534.3,588],["Arrdc3","FDR: 4.9e\u221205","FC: 1.5",703,19,659.7,713.5],
  ["Senp8","FDR: 0.0011","FC: 0.72",577,152,534.3,584.5],["Coa4","FDR: 0.002","FC: 0.69",703,152,659.7,706],
  ["AB041806","FDR: 1.1e\u221209","FC: 1.4",583,334,542,595],["Mt2","FDR: 6.3e\u221209","FC: 1.4",706,334,665.7,718.5],
  ["Top2a","FDR: 4.2e\u221210","FC: 0.79",583,467.5,542,595],["Tpx2","FDR: 1.1e\u221209","FC: 0.82",706,467.5,665.7,718.5],
] as [string,string,string,number,number,number,number][];

const Legend = ({ x, labelX, boxW, items }: any) => (
  <>
    {items.map((it: any, i: number) => it.title
      ? <T key={i} x={x} y={it.y} s={it.title} size={8} bold color="#222" />
      : <React.Fragment key={i}><Box x0={x} y0={it.y0} x1={x + boxW} y1={it.y0 + 12.3} bg={it.c} border="0.6px solid #bbb" /><T x={labelX} y={it.y0 + 6} s={it.t} size={8} color="#333" /></React.Fragment>)}
  </>
);

const Ticks = ({ x, vals }: any) => (
  <>{vals.map(([t, y]: any, i: number) => <T key={i} x={x} y={y} s={t} size={7.8} color="#333" />)}</>
);

const purple = "#dcbccd", cream = "#f6ead9", pale = "#f4e6ed", grey = "#ececec";
const tableCells = [
  [423.3,617.7,520.3,647.3,"#fff"],[520.3,617.7,613.3,647.3,"#fff"],[613.3,617.7,748,647.3,"#fff"],
  [358.7,647.3,423.3,719,"#fff"],[423.3,647.3,520.3,719,purple],[520.3,647.3,613.3,719,cream],[613.3,647.3,748,719,purple],
  [358.7,719,423.3,760.7,"#fff"],[423.3,719,520.3,760.7,pale],[520.3,719,613.3,760.7,grey],[613.3,719,748,760.7,pale],
  [358.7,760.7,423.3,832.3,"#fff"],[423.3,760.7,520.3,832.3,purple],[520.3,760.7,613.3,832.3,cream],[613.3,760.7,748,832.3,purple],
] as [number,number,number,number,string][];
const tableCounts = [["47",472.3,660.7],["496",570.3,660.7],["187",684,660.7],["2,024",472.3,740.7],["15,085",567,735.7],["1,855",684.3,732.3],["35",472.3,794.3],["228",567,794.3],["17",680.7,773.7]] as [string,number,number][];
const tableLines = [
  ["Heat shock",445.7,674.7,436.3],["protein binding",445.7,685.3],["activity",445.7,696],
  ["Dopaminergic",541.7,674.7,532.3],["synapses",541.7,685.3],["Long-term",541.7,696,532.3],["depression",541.7,706.7],
  ["SMN-Sm protein complex",634.7,674.7,625.7],["Postsynaptic endosome",634.7,685.3,625.7],
  ["SNARE complex",634.7,746,625.7],
  ["SNARE complex",635.3,787.7,625.7],["SNAP receptor activity",635.3,798.3,625.7],["SNARE interactions in",635.3,809,625.7],["vesicular transport",635.3,819.7],
] as [string,number,number,number?][];

const salmon = "#ea7966", nic = "#9db9de", blue = "#5b9fd8", red = "#c4262a";

export default function App() {
  const refs = useRef<(HTMLCanvasElement | null)[]>([]);
  useEffect(() => {
    const charts = specs.map((s, i) => new Chart(refs.current[i] as HTMLCanvasElement, s.cfg));
    return () => charts.forEach(c => c.destroy());
  }, []);
  const gradA = "linear-gradient(to bottom,#7a1a14 0%,#b8452e 22%,#d9775a 42%,#f2a98a 57.9%,#b8d1ea 57.9%,#6f93cb 76%,#3f5fa8 88%,#1c2a78 100%)";
  const gradB = "linear-gradient(to bottom,#7a1a14 0%,#b8452e 16%,#d9775a 30%,#f2a98a 41.6%,#b8d1ea 41.6%,#7a9ed2 58%,#3f5fa8 76%,#1c2a78 100%)";
  return (
    <div style={{ position: "absolute", left: 0, top: 0, width: 750, height: 839, background: "#fff", fontFamily: FONT, overflow: "hidden" }}>
      {specs.map((s, i) => (
        <canvas key={i} ref={el => { refs.current[i] = el; }} width={Math.ceil(s.rect.w)} height={Math.ceil(s.rect.h)}
          style={{ position: "absolute", left: s.rect.x, top: s.rect.y, width: Math.ceil(s.rect.w), height: Math.ceil(s.rect.h) }} />
      ))}

      <T x={8} y={9} s="A)" size={15} bold color="#111" />
      <T x={5} y={324} s="B)" size={15} bold color="#111" />
      <T x={8} y={647} s="C)" size={15} bold color="#111" />

      <Box x0={28.3} y0={39.3} x1={76} y1={76} bg="#fff" border="1.5px solid #222" />
      <Dot x={39.3} y={52.3} r={2.6} bg="#4ba0e0" border="0.8px solid #111" /><T x={50.7} y={52.3} s="Down" size={8.5} color="#333" />
      <Dot x={39.3} y={60} r={1.3} bg="#bbb" border="0.5px solid #777" /><T x={50.7} y={60} s="ns" size={8.5} color="#333" />
      <Dot x={39.3} y={68} r={2.6} bg="#e0281f" border="0.8px solid #111" /><T x={50.7} y={68} s="Up" size={8.5} color="#333" />

      <Box x0={30} y0={356} x1={77.3} y1={392.3} bg="#fff" border="1.5px solid #222" />
      <Dot x={41} y={368.7} r={2.6} bg="#4ba0e0" border="0.8px solid #111" /><T x={51.7} y={368.7} s="Down" size={8.5} color="#333" />
      <Dot x={41} y={376.7} r={1.3} bg="#bbb" border="0.5px solid #777" /><T x={51.7} y={376.7} s="ns" size={8.5} color="#333" />
      <Dot x={41} y={384.7} r={2.6} bg="#e0281f" border="0.8px solid #111" /><T x={51.7} y={384.7} s="Up" size={8.5} color="#333" />

      {boxTitles.map(([t,f,c,cx,y,fx,cxx], i) => (
        <React.Fragment key={i}>
          <T x={cx} y={y} s={t} size={8} bold color="#222" align="center" />
          <T x={fx} y={y + 10.3} s={f} size={6.9} color="#333" />
          <T x={cxx} y={y + 10.3} s={c} size={6.9} color="#333" />
        </React.Fragment>
      ))}

      {/* heat map A annotations */}
      <T x={439.3} y={48} s="Sex" size={7.8} bold /><T x={439.3} y={57.7} s="Group" size={7.8} bold />
      <T x={263} y={265.7} s="FC" size={7.8} bold />
      <div style={{ position: "absolute", left: 440.7, top: 64.3, width: 7.6, height: 115.7, background: gradA }} />
      <Ticks x={452} vals={[["4",83.7],["2",107.3],["0",131.3],["\u22122",155.3],["\u22124",179]]} />
      <T x={440.7} y={187} s="z-score" size={7.8} bold />
      <Legend x={471} labelX={485} boxW={11.7} items={[{title:"Sex",y:66},{y0:72,c:annotPalette.F,t:"F"},{y0:84.3,c:annotPalette.M,t:"M"},{title:"Group",y:109},{y0:114.7,c:annotPalette.C,t:"Ctrl"},{y0:127,c:annotPalette.E,t:"Expt"},{title:"FC",y:151.7},{y0:157.3,c:annotPalette.G,t:"\u22651"},{y0:169.7,c:annotPalette.L,t:"<1"}]} />

      {/* heat map B annotations */}
      <T x={445.3} y={361.7} s="Sex" size={7.8} bold /><T x={445.3} y={372} s="Group" size={7.8} bold />
      <T x={257} y={582} s="FC" size={7.8} bold />
      <div style={{ position: "absolute", left: 446.7, top: 378, width: 8, height: 116, background: gradB }} />
      <Ticks x={457.3} vals={[["4",391],["2",408.7],["0",426.3],["\u22122",444],["\u22124",461.7],["\u22126",479]]} />
      <T x={446.7} y={500.7} s="z-score" size={7.8} bold />
      <Legend x={476.7} labelX={490.7} boxW={11.7} items={[{title:"Sex",y:379.3},{y0:385.7,c:annotPalette.F,t:"F"},{y0:398,c:annotPalette.M,t:"M"},{title:"Group",y:422},{y0:428,c:annotPalette.C,t:"Ctrl"},{y0:440.3,c:annotPalette.E,t:"Expt"},{title:"FC",y:464.7},{y0:470.7,c:annotPalette.G,t:"\u22651"},{y0:482.7,c:annotPalette.L,t:"<1"}]} />

      {/* scatter C legend */}
      <T x={51} y={655} s="rho = 0.13" size={10.4} color="#333" />
      <T x={208} y={699} s="Differential expression" size={11.4} color="#222" />
      {[["sig Both","#c2277c",717.7],["sig Smoking pups","#c9b1cc",733],["sig Nicotine pups","#edd09d",749],["None","#a6a6a6",764.5]].map(([t,c,y]: any, i) => (
        <React.Fragment key={i}><Dot x={216.7} y={y} r={2.8} bg={c} /><T x={231} y={y} s={t} size={10.8} color="#333" /></React.Fragment>
      ))}

      {/* table */}
      {tableCells.map(([a,b,c,d,bg], i) => <Box key={i} x0={a} y0={b} x1={c + 0.7} y1={d + 0.7} bg={bg} border="0.8px solid #6a6a6a" />)}
      <T x={435.7} y={633} s="Smoking" size={8.8} bold color={salmon} />
      <Box x0={477} y0={628} x1={514.7} y1={639.3} bg={blue} /><T x={495.8} y={633.8} s="down" size={8.5} color="#fff" align="center" serif />
      <T x={541} y={633} s="Smoking" size={8.8} bold color={salmon} /><T x={585} y={633} s="ns" size={8.5} bold color="#9a9a9a" />
      <T x={652.3} y={633} s="Smoking" size={8.8} bold color={salmon} />
      <Box x0={693} y0={628} x1={718.7} y1={639.3} bg={red} /><T x={705.8} y={633.8} s="up" size={8.5} color="#fff" align="center" serif />
      <T x={391.3} y={681.7} s="Nicotine" size={9} bold color={nic} align="center" />
      <Box x0={379.3} y0={689.3} x1={404.7} y1={700} bg={red} /><T x={392} y={694.8} s="up" size={8.5} color="#fff" align="center" serif />
      <T x={391.3} y={737.3} s="Nicotine" size={9} bold color={nic} align="center" />
      <T x={391.3} y={748.3} s="ns" size={8} color="#999" align="center" />
      <T x={391.3} y={793.3} s="Nicotine" size={9} bold color={nic} align="center" />
      <Box x0={373} y0={800.7} x1={411} y1={811.3} bg={blue} /><T x={392} y={806} s="down" size={8.5} color="#fff" align="center" serif />
      {tableCounts.map(([t,x,y], i) => <T key={i} x={x} y={y} s={t} size={9.4} bold color="#222" align="center" />)}
      <T x={567} y={747} s="(non-DEGs)" size={9.2} color="#888" align="center" />
      {tableLines.map(([t,x,y,bx], i) => (
        <React.Fragment key={i}>
          {bx !== undefined && <T x={bx} y={y} s={"\u2022"} size={8} color="#333" />}
          <T x={x} y={y} s={t} size={9} color="#333" />
        </React.Fragment>
      ))}
    </div>
  );
}
